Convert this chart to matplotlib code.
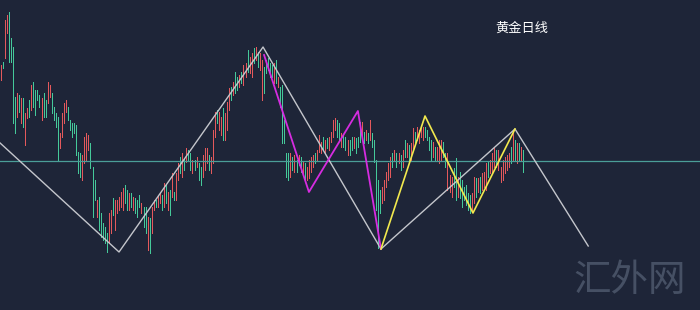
import numpy as np
import matplotlib
matplotlib.use("Agg")
import matplotlib.pyplot as plt

# candle data (price units, arbitrary scale)
opens = [
    230, 248, 252, 277, 298, 272, 263, 213, 193, 215, 187, 212, 165, 192, 210,
    200, 228, 220, 220, 215, 190, 217, 210, 207, 213, 217, 203, 197, 193, 162,
    173, 187, 198, 203, 190, 187, 187, 185, 158, 157, 130,
    147, 150, 160, 167, 143, 130, 93, 113, 97, 87, 83, 77, 67, 77, 112, 80, 97,
    100, 103, 100, 125, 120, 100, 117, 100, 112, 110, 115, 97, 103, 103, 60, 92,
    77, 100, 110, 103, 107, 115, 103, 125, 100, 120,
    113, 118, 110, 130, 153, 133, 152, 148, 160, 157, 137, 150, 143, 147, 143,
    133, 140, 147, 155, 137, 147, 173, 200, 180, 175, 202, 170, 180, 200, 223,
    215, 238, 233, 223, 238, 225, 233, 260, 237, 233, 262, 250, 258, 240,
    210, 243, 250, 252, 247, 245, 227, 250, 223, 223, 225, 190, 157, 157, 133,
    153, 138, 150, 145, 153, 137, 147, 130, 132, 138, 143, 157, 150, 158, 157,
    173, 157, 172, 160, 168, 173, 180, 190, 187, 163, 175, 173, 155, 170,
    173, 162, 172, 173, 188, 173, 178, 170, 177, 170, 177, 170, 150, 130, 120,
    107, 110, 123, 130, 133, 157, 150, 157, 147, 155, 143, 170, 153, 165, 150,
    162, 178, 170, 167, 173, 170, 183, 180, 173, 170, 153, 163, 150,
    147, 150, 168, 157, 120, 118, 113, 142, 152, 113, 138, 130, 123, 125, 117,
    115, 100, 107, 132, 118, 133, 120, 123, 120, 148, 137, 137, 143, 160, 140,
    128, 130, 137, 140, 143, 163, 150, 170, 147, 167, 150, 160,
]
closes = [
    245, 242, 290, 295, 248, 248, 187, 177, 217, 198, 212, 183, 197, 202, 193,
    225, 203, 195, 210, 203, 212, 193, 193, 228, 225, 197, 190, 183, 150, 177,
    197, 207, 210, 190, 180, 173, 177, 155, 137, 133, 155,
    173, 177, 175, 142, 93, 110, 110, 80, 73, 70, 67, 58, 97, 100, 95, 110, 110,
    113, 118, 122, 107, 100, 117, 103, 113, 97, 93, 103, 107, 83, 77, 93, 57,
    103, 110, 103, 115, 117, 100, 127, 107, 118, 95,
    137, 110, 137, 147, 137, 157, 140, 162, 150, 140, 150, 140, 153, 130, 125,
    155, 162, 162, 140, 153, 180, 198, 187, 198, 193, 170, 197, 208, 222, 210,
    228, 217, 220, 235, 227, 245, 247, 238, 253, 257, 247, 263, 243, 257,
    250, 217, 237, 240, 233, 233, 247, 227, 233, 203, 167, 167, 133, 130, 157,
    140, 155, 138, 155, 138, 148, 130, 143, 150, 153, 155, 147, 160, 175, 168,
    160, 170, 162, 173, 178, 190, 192, 173, 170, 177, 163, 160, 170, 155,
    160, 173, 157, 163, 168, 188, 167, 180, 167, 190, 163, 148, 100, 62, 97,
    123, 130, 138, 147, 153, 143, 160, 143, 157, 140, 160, 153, 167, 148, 167,
    182, 168, 183, 180, 183, 183, 173, 170, 160, 150, 168, 150, 163,
    170, 170, 153, 143, 157, 135, 133, 123, 110, 133, 112, 103, 110, 105, 100,
    97, 117, 133, 113, 132, 117, 137, 138, 147, 133, 150, 157, 163, 143, 160,
    143, 150, 153, 155, 157, 147, 180, 150, 167, 150, 163, 138,
]

# swing lines (bar index, price)
gray_x = [-0.3, 58, 128.6, 186.4, 252.1, 288]
gray_y = [167, 58, 263, 61, 181, 64]
magenta_x = [129.1, 151.1, 175.1, 186.4]
magenta_y = [255, 118, 199, 61]
yellow_x = [186.4, 208, 231.5, 252.1]
yellow_y = [61, 194, 97, 181]
level = 149

title = "黄金日线"
watermark = "汇外网"

BG = "#1e2538"
UP = "#e4595c"
DOWN = "#45c99a"

plt.rcParams["font.family"] = ["Noto Sans CJK SC", "DejaVu Sans"]

fig = plt.figure(figsize=(7, 3.1), dpi=100, facecolor=BG)
ax = fig.add_axes([0, 0, 1, 1], facecolor=BG)

# one pixel wide candles, red = up, green = down
o = np.array(opens)
c = np.array(closes)
idx = np.arange(len(o))
cols = np.where(c >= o, UP, DOWN)
ax.vlines(idx, np.minimum(o, c), np.maximum(o, c), colors=cols, lw=0.72,
          antialiased=False, zorder=2)

ax.axhline(level, color="#4b9e98", lw=0.9, zorder=3)

ax.plot(gray_x, gray_y, color="#c4c6cc", lw=1.0, zorder=4)
ax.plot(magenta_x, magenta_y, color="#d62ce0", lw=1.3, zorder=5)
ax.plot(yellow_x, yellow_y, color="#f2e94e", lw=1.2, zorder=5)

ax.text(0.746, 0.91, title, transform=ax.transAxes, ha="center", va="center",
        color="white", fontsize=9.5)
ax.text(0.9, 0.095, watermark, transform=ax.transAxes, ha="center", va="center",
        color="#465064", fontsize=27)

dx = 2.04  # pixels per bar
ax.set_xlim(-0.7 / dx, (700 - 0.7) / dx)
ax.set_ylim(0, 310)
ax.axis("off")

fig.savefig("out.png", dpi=100, facecolor=BG)
